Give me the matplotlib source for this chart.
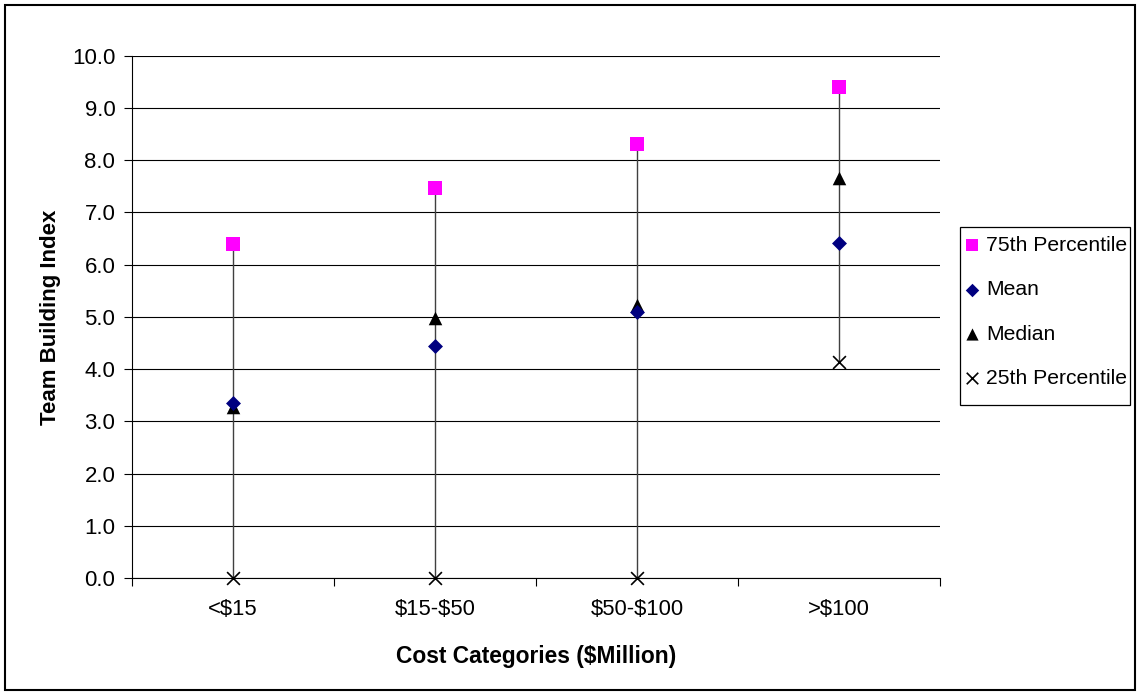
import matplotlib
matplotlib.use("Agg")
import matplotlib.pyplot as plt
from matplotlib.patches import Rectangle

categories = ["<$15", "$15-$50", "$50-$100", ">$100"]
p75 = [6.4, 7.46, 8.3, 9.4]
mean = [3.35, 4.45, 5.1, 6.42]
median = [3.27, 4.98, 5.22, 7.65]
p25 = [0.0, 0.0, 0.0, 4.13]
yticks = [0.0, 1.0, 2.0, 3.0, 4.0, 5.0, 6.0, 7.0, 8.0, 9.0, 10.0]

plt.rcParams['font.family'] = ['Liberation Sans', 'DejaVu Sans']
plt.rcParams['text.parse_math'] = False

W, H = 1140, 696
fig = plt.figure(figsize=(11.4, 6.96), dpi=100)
fig.patch.set_facecolor('white')
fig.add_artist(Rectangle((0.004, 0.008), 0.992, 0.985, transform=fig.transFigure,
                         fill=False, edgecolor='black', linewidth=1.5))
# legend frame
fig.add_artist(Rectangle((960 / W, 1 - 405 / H), 170 / W, 178 / H, transform=fig.transFigure,
                         fill=False, edgecolor='black', linewidth=0.9))

ax = fig.add_axes([0.1158, 0.1695, 0.7088, 0.7505])
xs = [i + 0.5 for i in range(len(categories))]

ax.vlines(xs, p25, p75, colors='#404040', linewidth=1.0, zorder=2)
ax.scatter(xs, p75, marker='s', s=95, color='#FF00FF', zorder=3, label='75th Percentile',
           linewidths=0, clip_on=False)
ax.scatter(xs, mean, marker='D', s=58, color='#000080', zorder=4, label='Mean',
           linewidths=0, clip_on=False)
ax.scatter(xs, median, marker='^', s=95, color='black', zorder=3, label='Median',
           linewidths=0, clip_on=False)
ax.scatter(xs, p25, marker='x', s=85, color='black', zorder=3, label='25th Percentile',
           linewidths=1.2, clip_on=False)

ax.set_xlim(0, len(categories))
ax.set_ylim(0, 10)
ax.set_yticks(yticks)
ax.set_yticklabels([f"{v:.1f}" for v in yticks])
ax.set_xticks(range(len(categories) + 1))
ax.set_xticklabels([])
ax.set_xticks(xs, minor=True)
ax.set_xticklabels(categories, minor=True)
ax.tick_params(axis='x', which='minor', length=0, pad=15, labelsize=15.8)
ax.tick_params(axis='x', which='major', length=6, direction='out', width=0.8)
ax.tick_params(axis='y', length=6, direction='out', width=0.8, labelsize=16, pad=6)
ax.yaxis.grid(True, color='black', linewidth=0.8)
ax.set_axisbelow(True)
for s in ['top', 'right']:
    ax.spines[s].set_visible(False)
ax.spines['left'].set_color('black')
ax.spines['bottom'].set_color('black')

ax.set_ylabel('Team Building Index', fontsize=16, fontweight='bold', labelpad=8)
ax.set_xlabel('Cost Categories ($Million)', fontsize=16.4, fontweight='bold', labelpad=18)

leg = fig.legend(loc='upper left', bbox_to_anchor=(961 / W, 1 - 236 / H), frameon=False,
                 fontsize=15.2, handletextpad=0.2, labelspacing=1.2, borderpad=0,
                 handlelength=1.0, borderaxespad=0, markerscale=0.9)

fig.savefig('out.png', dpi=100, facecolor='white')
